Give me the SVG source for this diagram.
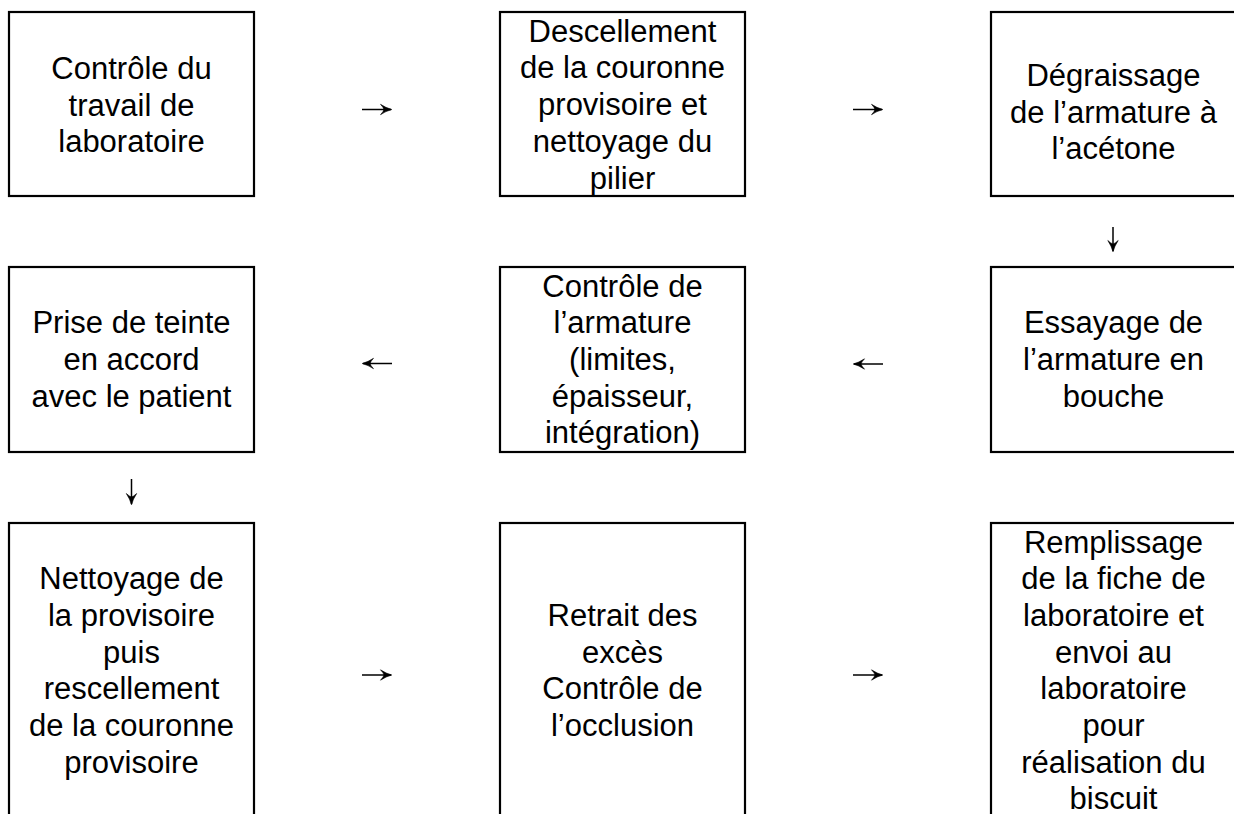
<svg xmlns="http://www.w3.org/2000/svg" width="1234" height="814" viewBox="0 0 1234 814">
  <style>
    .box rect { fill: #ffffff; stroke: #000000; stroke-width: 2.2; }
    .box text { font-family: "Liberation Sans", Arial, sans-serif; font-size: 31px; fill: #000000; text-anchor: middle; }
    .link { fill: none; stroke: #000000; stroke-width: 1.5; marker-end: url(#head); }
  </style>
  <defs>
    <marker id="head" markerUnits="userSpaceOnUse" markerWidth="14" markerHeight="14" viewBox="-12 -7 14 14" refX="0" refY="0" orient="auto">
      <path d="M0.8,0 Q-5,-1.5 -10.5,-5.2 Q-7.5,-2 -7,0 Q-7.5,2 -10.5,5.2 Q-5,1.5 0.8,0 Z" fill="#000000" stroke="#000000" stroke-width="0.6" stroke-linejoin="round"/>
    </marker>
  </defs>
  <rect width="1234" height="814" fill="#ffffff"/>

  <!-- Row 1 -->
  <g id="step1" class="box">
    <rect x="9" y="12" width="245" height="184"/>
    <text x="131.5" y="79">Contrôle du</text>
    <text x="131.5" y="115.7">travail de</text>
    <text x="131.5" y="152.4">laboratoire</text>
  </g>
  <g id="step2" class="box">
    <rect x="500" y="12" width="245" height="184"/>
    <text x="622.5" y="41.7">Descellement</text>
    <text x="622.5" y="78.4">de la couronne</text>
    <text x="622.5" y="115.1">provisoire et</text>
    <text x="622.5" y="151.8">nettoyage du</text>
    <text x="622.5" y="188.5">pilier</text>
  </g>
  <g id="step3" class="box">
    <rect x="991" y="12" width="245" height="184"/>
    <text x="1113.5" y="86">Dégraissage</text>
    <text x="1113.5" y="122.7">de l’armature à</text>
    <text x="1113.5" y="159.4">l’acétone</text>
  </g>

  <!-- Row 2 -->
  <g id="step4" class="box">
    <rect x="9" y="267" width="245" height="185"/>
    <text x="131.5" y="333.3">Prise de teinte</text>
    <text x="131.5" y="370">en accord</text>
    <text x="131.5" y="406.7">avec le patient</text>
  </g>
  <g id="step5" class="box">
    <rect x="500" y="267" width="245" height="185"/>
    <text x="622.5" y="296.6">Contrôle de</text>
    <text x="622.5" y="333.3">l’armature</text>
    <text x="622.5" y="370">(limites,</text>
    <text x="622.5" y="406.7">épaisseur,</text>
    <text x="622.5" y="443.4">intégration)</text>
  </g>
  <g id="step6" class="box">
    <rect x="991" y="267" width="245" height="185"/>
    <text x="1113.5" y="333.3">Essayage de</text>
    <text x="1113.5" y="370">l’armature en</text>
    <text x="1113.5" y="406.7">bouche</text>
  </g>

  <!-- Row 3 (boxes run past the lower edge) -->
  <g id="step7" class="box">
    <rect x="9" y="523" width="245" height="320"/>
    <text x="131.5" y="589.3">Nettoyage de</text>
    <text x="131.5" y="626">la provisoire</text>
    <text x="131.5" y="662.7">puis</text>
    <text x="131.5" y="699.4">rescellement</text>
    <text x="131.5" y="736.1">de la couronne</text>
    <text x="131.5" y="772.8">provisoire</text>
  </g>
  <g id="step8" class="box">
    <rect x="500" y="523" width="245" height="320"/>
    <text x="622.5" y="625.9">Retrait des</text>
    <text x="622.5" y="662.6">excès</text>
    <text x="622.5" y="699.3">Contrôle de</text>
    <text x="622.5" y="736">l’occlusion</text>
  </g>
  <g id="step9" class="box">
    <rect x="991" y="523" width="245" height="320"/>
    <text x="1113.5" y="552.5">Remplissage</text>
    <text x="1113.5" y="589.2">de la fiche de</text>
    <text x="1113.5" y="625.9">laboratoire et</text>
    <text x="1113.5" y="662.6">envoi au</text>
    <text x="1113.5" y="699.3">laboratoire</text>
    <text x="1113.5" y="736">pour</text>
    <text x="1113.5" y="772.7">réalisation du</text>
    <text x="1113.5" y="809.4">biscuit</text>
  </g>

  <!-- Connectors: short free-standing arrows between steps -->
  <g id="connectors">
    <path class="link" d="M362,109.5 H391"/>
    <path class="link" d="M853,109.5 H882"/>
    <path class="link" d="M1113,227 V251"/>
    <path class="link" d="M883,364 H854"/>
    <path class="link" d="M392,363.5 H363"/>
    <path class="link" d="M131.5,479 V504"/>
    <path class="link" d="M362,675 H391"/>
    <path class="link" d="M853,675 H882"/>
  </g>
</svg>
